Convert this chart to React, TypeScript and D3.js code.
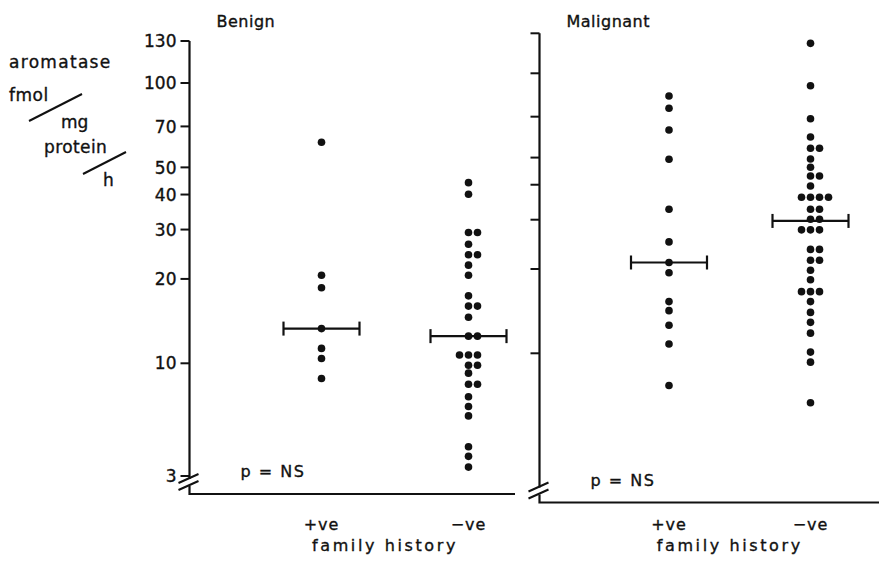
import React from "react";
import * as d3 from "d3";

// values (aromatase, fmol/mg protein/h)
const yTicks = [3, 10, 20, 30, 40, 50, 70, 100, 130];
const groups = ["+ve", "-ve"];

const benignPos = [61.5, 20.6, 18.6, 13.3, 11.3, 10.4, 8.5];
const benignNeg = [
  44.1, 40.1, 29.3, 29.3, 26.6, 24.4, 24.4, 22.4, 20.6, 17.4, 16.0, 16.0, 14.6, 12.5, 12.5,
  10.7, 10.7, 10.7, 9.8, 9.8, 9.0, 8.0, 8.0, 7.0, 6.3, 5.7, 4.1, 3.7, 3.3,
];
const malignantPos = [83, 75, 62.7, 49.3, 32.7, 25.0, 21.1, 19.4, 15.3, 14.2, 12.6, 10.8, 7.1];
const malignantNeg = [
  121.7, 90.3, 68.8, 59.2, 54.0, 54.0, 49.4, 46.2, 43.0, 43.0, 39.6, 36.1, 36.1, 36.1, 36.1,
  32.7, 32.7, 30.1, 30.1, 27.6, 27.6, 27.6, 23.5, 23.5, 21.5, 21.5, 19.8, 18.3, 16.6, 16.6,
  16.6, 15.3, 14.0, 12.9, 11.8, 10.1, 9.1, 5.9,
];
const benignMedians = [13.3, 12.5];
const malignantMedians = [21.1, 29.7];

const FONT = "'DejaVu Sans', Arial, sans-serif";
const INK = "#111";
// scanned type looks a little heavier than DejaVu regular
const heavy = { stroke: INK, strokeWidth: 0.35 };

type Panel = {
  title: string;
  series: number[][];
  medians: number[];
  axisX: number;
  axisBottom: number;
  axisRight: number;
  yRange: number[];
  xRange: [number, number];
  showLabels: boolean;
};

const panels: Panel[] = [
  {
    title: "Benign",
    series: [benignPos, benignNeg],
    medians: benignMedians,
    axisX: 189.5,
    axisBottom: 494,
    axisRight: 515,
    yRange: [476, 363.3, 83, 41],
    xRange: [321.5, 468.5],
    showLabels: true,
  },
  {
    title: "Malignant",
    series: [malignantPos, malignantNeg],
    medians: malignantMedians,
    axisX: 539.5,
    axisBottom: 502.5,
    axisRight: 879,
    yRange: [466.3, 353.3, 73.3, 33.3],
    xRange: [669, 810.5],
    showLabels: false,
  },
];

// side-by-side placement for tied values: centre, right, left, right+1 ...
const offsets = [0, 1, -1, 2, -2];

const PanelView = ({ p }: { p: Panel }) => {
  const y = d3.scaleLog().domain([3, 10, 100, 130]).range(p.yRange);
  const x = d3.scalePoint<string>().domain(groups).range(p.xRange);
  const top = y(130);
  const breakY = p.axisBottom - 12;

  return (
    <g>
      <text x={p.axisX + 27} y={27} fontSize={16} fontFamily={FONT} fill={INK} letterSpacing={0.5} {...heavy}>
        {p.title}
      </text>
      {/* y axis with break */}
      <path
        d={`M${p.axisX},${top} L${p.axisX},${breakY - 3} M${p.axisX},${breakY + 4} L${p.axisX},${p.axisBottom} L${p.axisRight},${p.axisBottom}`}
        stroke={INK}
        strokeWidth={2.2}
        fill="none"
      />
      <path
        d={`M${p.axisX - 11},${breakY + 1} L${p.axisX + 9},${breakY - 8} M${p.axisX - 11},${breakY + 8} L${p.axisX + 9},${breakY - 1}`}
        stroke={INK}
        strokeWidth={2}
        fill="none"
      />
      {yTicks
        .filter((t) => p.showLabels || t !== 3)
        .map((t) => (
          <g key={t} transform={`translate(0,${y(t)})`}>
            <line x1={p.axisX - 9} x2={p.axisX} stroke={INK} strokeWidth={2} />
            {p.showLabels && (
              <text x={p.axisX - 13} dy="0.36em" textAnchor="end" fontSize={17} fontFamily={FONT} fill={INK} {...heavy}>
                {t}
              </text>
            )}
          </g>
        ))}
      {/* dots */}
      {p.series.map((vals, gi) => {
        const seen = new Map<number, number>();
        return vals.map((v, i) => {
          const k = seen.get(v) || 0;
          seen.set(v, k + 1);
          return (
            <circle key={`${gi}-${i}`} cx={(x(groups[gi]) as number) + offsets[k] * 9} cy={y(v)} r={3.8} fill={INK} />
          );
        });
      })}
      {/* medians */}
      {p.medians.map((m, gi) => {
        const cx = x(groups[gi]) as number;
        const cy = y(m);
        return (
          <g key={gi} stroke={INK} strokeWidth={2.2}>
            <line x1={cx - 38} x2={cx + 38} y1={cy} y2={cy} />
            <line x1={cx - 38} x2={cx - 38} y1={cy - 7} y2={cy + 7} />
            <line x1={cx + 38} x2={cx + 38} y1={cy - 7} y2={cy + 7} />
          </g>
        );
      })}
      <text x={p.axisX + 51} y={p.axisBottom - 17} fontSize={16} fontFamily={FONT} fill={INK} letterSpacing={1.5} {...heavy}>
        p = NS
      </text>
      {groups.map((g) => (
        <text
          key={g}
          x={x(g) as number}
          y={530}
          textAnchor="middle"
          fontSize={16}
          fontFamily={FONT}
          fill={INK}
          letterSpacing={1}
          {...heavy}
        >
          {g === "+ve" ? "+ve" : "\u2212ve"}
        </text>
      ))}
      <text
        x={(p.xRange[0] + p.xRange[1]) / 2 - 10}
        y={551}
        textAnchor="middle"
        fontSize={16}
        fontFamily={FONT}
        fill={INK}
        letterSpacing={2.6}
        {...heavy}
      >
        family history
      </text>
    </g>
  );
};

export default function App() {
  return (
    <svg
      width={879}
      height={561}
      style={{ position: "absolute", left: 0, top: 0, background: "#fff" }}
    >
      <rect width={879} height={561} fill="#fff" />
      {/* y-axis unit label */}
      <g fontFamily={FONT} fontSize={17} fill={INK} {...heavy}>
        <text x={9} y={68} letterSpacing={1.3}>aromatase</text>
        <text x={9} y={101} letterSpacing={0.5}>fmol</text>
        <text x={61} y={128}>mg</text>
        <text x={44} y={153} letterSpacing={0.4}>protein</text>
        <text x={103} y={186}>h</text>
      </g>
      <line x1={29} y1={121} x2={82} y2={94} stroke={INK} strokeWidth={2} />
      <line x1={83} y1={174} x2={126} y2={152} stroke={INK} strokeWidth={2} />
      {panels.map((p) => (
        <PanelView key={p.title} p={p} />
      ))}
    </svg>
  );
}
